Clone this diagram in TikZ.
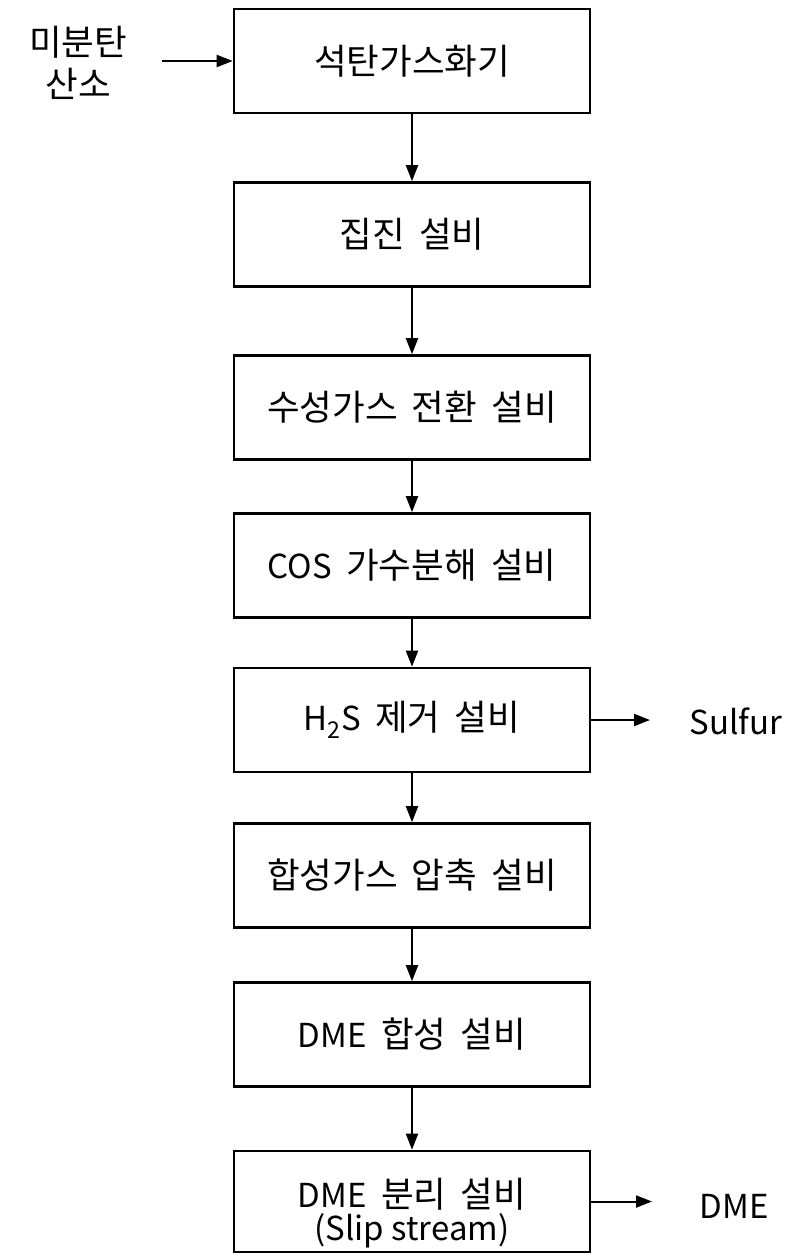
\documentclass[tikz,border=0pt]{standalone}
\usepackage{fontspec}
\setmainfont{Noto Sans CJK KR}
\newfontfamily\krfont[WordSpace=1.8]{Noto Sans CJK KR}
\newcommand{\kr}[1]{{\krfont\fontsize{35.5}{36}\selectfont #1}}
\usetikzlibrary{arrows.meta}
\begin{document}
\begin{tikzpicture}[x=1pt,y=1pt,
  procbox/.style={draw, line width=2.6pt, minimum width=356pt, minimum height=104pt,
    inner sep=0pt, align=center, font=\fontsize{33}{34}\selectfont},
  lbl/.style={inner sep=0pt, align=center, font=\fontsize{33}{42}\selectfont},
  flow/.style={line width=2pt, -{Triangle[length=16pt,width=12pt]}}]
\useasboundingbox (0,0) rectangle (790,-1256);
\node[procbox] (b1) at (412,-61) {\kr{석탄가스화기}};
\node[procbox] (b2) at (412,-234.5) {\kr{집진 설비}};
\node[procbox] (b3) at (412,-407.5) {\kr{수성가스 전환 설비}};
\node[procbox] (b4) at (412,-565.5) {COS\kr{ 가수분해 설비}};
\node[procbox] (b5) at (412,-720) {H\textsubscript{2}S\kr{ 제거 설비}};
\node[procbox] (b6) at (412,-875.5) {\kr{합성가스 압축 설비}};
\node[procbox] (b7) at (412,-1034.5) {DME\kr{ 합성 설비}};
\node[procbox, minimum height=101pt] (b8) at (412,-1201.5) {};
\node[inner sep=0pt, align=center, font=\fontsize{33}{33}\selectfont] (b8t) at (412,-1213) {DME\kr{ 분리 설비}\\(Slip stream)};
\node[lbl] (in) at (78,-63) {\kr{미분탄}\\\kr{산소}};
\coordinate (inA) at (162,-61);
\node[lbl] (sul) at (736,-721) {Sulfur};
\coordinate (sulA) at (650,-720);
\node[lbl] (dme) at (734,-1206) {DME};
\coordinate (dmeA) at (652,-1201.5);
\draw[flow] (inA) -- (b1.west);
\draw[flow] (b1) -- (b2);
\draw[flow] (b2) -- (b3);
\draw[flow] (b3) -- (b4);
\draw[flow] (b4) -- (b5);
\draw[flow] (b5) -- (b6);
\draw[flow] (b6) -- (b7);
\draw[flow] (b7) -- (b8);
\draw[flow] (b5.east) -- (sulA);
\draw[flow] (b8.east) -- (dmeA);
\end{tikzpicture}
\end{document}
